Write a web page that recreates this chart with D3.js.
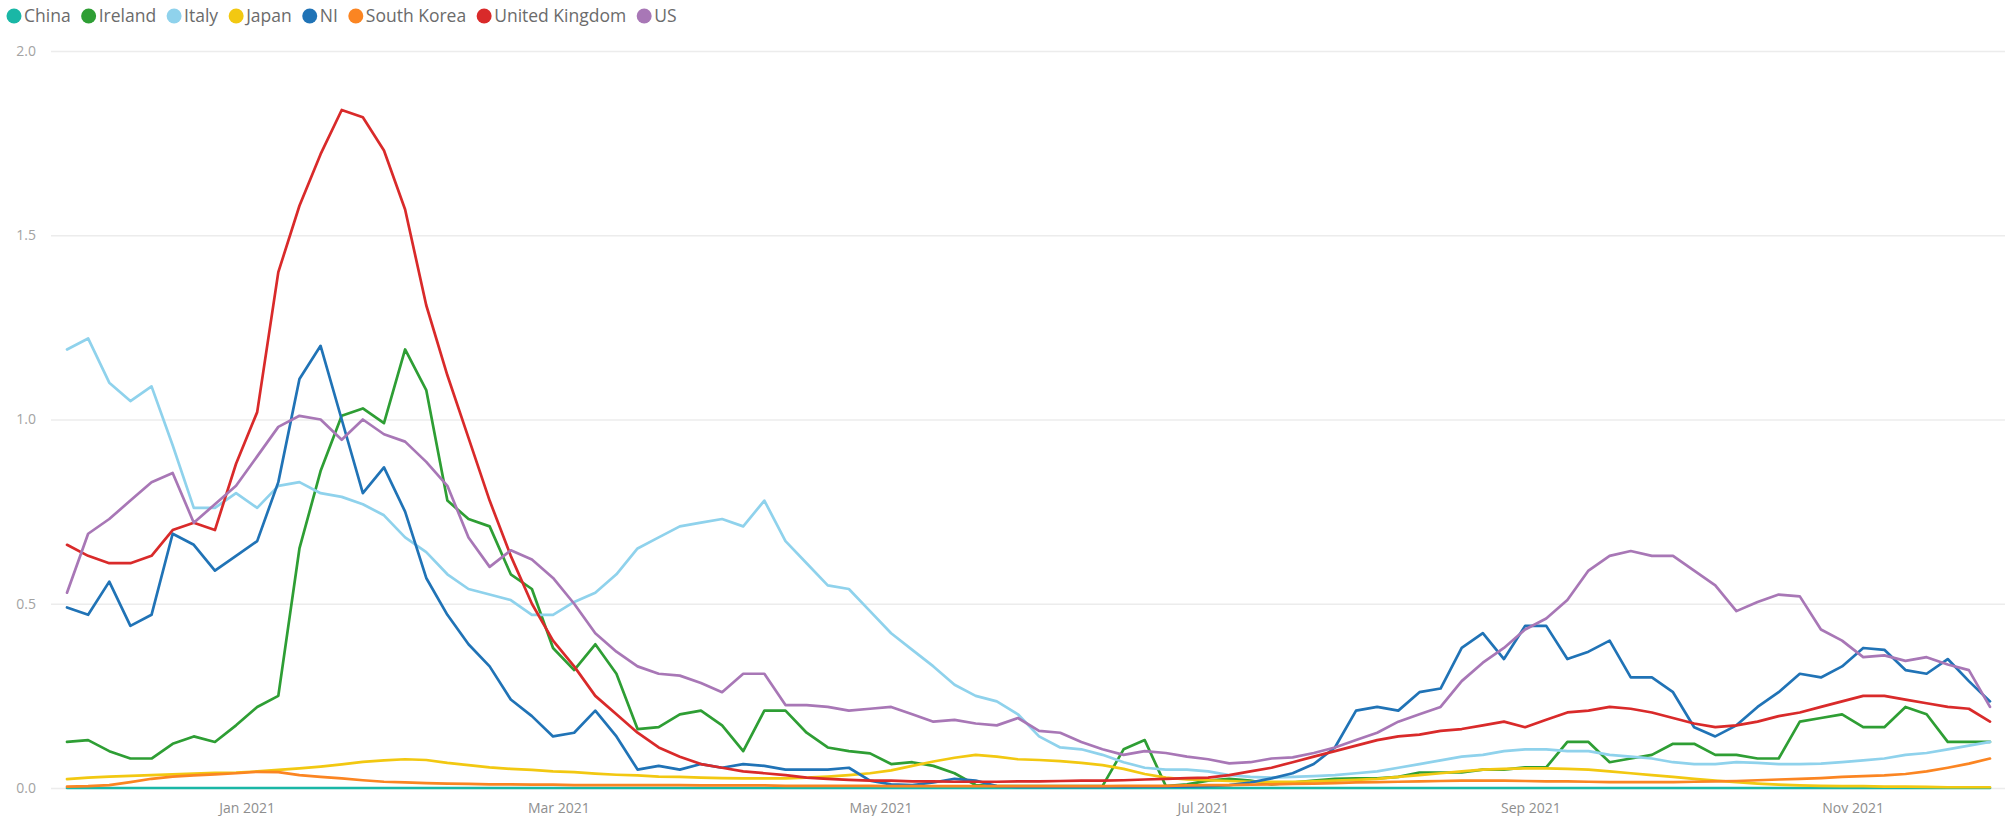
<!DOCTYPE html>
<html>
<head>
<meta charset="utf-8">
<script src="https://cdn.jsdelivr.net/npm/d3@7"></script>
<style>
  html, body { margin: 0; padding: 0; background: #fff; }
  svg { display: block; font-family: "Segoe UI", "Open Sans", "Noto Sans", sans-serif; }
</style>
</head>
<body>
<svg id="chart" width="2010" height="816"></svg>
<script>
// ---- DATA ----
const startDate = "2020-11-28";   // first sample
const stepDays = 4;               // spacing of samples
const seriesNames = ["China", "Ireland", "Italy", "Japan", "NI", "South Korea", "United Kingdom", "US"];
const seriesColors = ["#1ab7a6", "#2e9e34", "#8fd2ec", "#f2c811", "#2073b6", "#fb8522", "#d92a2a", "#a877b6"];
const tickDates = ["2021-01-01", "2021-03-01", "2021-05-01", "2021-07-01", "2021-09-01", "2021-11-01"];
const yTicks = [0, 0.5, 1.0, 1.5, 2.0];

const china = [0,0,0,0,0,0,0,0,0,0,0,0,0,0,0,0,0,0,0,0,0,0,0,0,0,0,0,0,0,0,0,0,0,0,0,0,0,0,0,0,0,0,0,0,0,0,
  0,0,0,0,0,0,0,0,0,0,0,0,0,0,0,0,0,0,0,0,0,0,0,0,0,0,0,0,0,0,0,0,0,0,0,0,0,0,0,0,0,0,0,0,0,0];
const ireland = [0.125,0.13,0.10,0.08,0.08,0.12,0.14,0.125,0.17,0.22,0.25,0.65,0.86,1.01,1.03,0.99,1.19,1.08,0.78,
  0.73,0.71,0.58,0.54,0.38,0.32,0.39,0.31,0.16,0.165,0.20,0.21,0.17,0.10,0.21,0.21,0.15,0.11,
  0.10,0.094,0.065,0.07,0.06,0.04,0.008,0.005,0.005,0.005,0.005,0.005,0.005,0.105,0.13,0.005,0.01,0.02,
  0.025,0.02,0.01,0.015,0.02,0.025,0.026,0.026,0.03,0.042,0.042,0.042,0.05,0.05,0.056,0.056,0.125,0.125,
  0.07,0.08,0.09,0.12,0.12,0.09,0.09,0.08,0.08,0.18,0.19,0.20,0.165,0.165,0.22,0.20,0.125,0.125,0.125];
const italy = [1.19,1.22,1.10,1.05,1.09,0.93,0.76,0.76,0.80,0.76,0.82,0.83,0.80,0.79,0.77,0.74,0.68,0.64,0.58,
  0.54,0.525,0.51,0.47,0.47,0.505,0.53,0.58,0.65,0.68,0.71,0.72,0.73,0.71,0.78,0.67,0.61,0.55,
  0.54,0.48,0.42,0.375,0.33,0.28,0.25,0.235,0.20,0.14,0.11,0.105,0.09,0.07,0.055,0.05,0.05,0.045,
  0.035,0.03,0.028,0.03,0.032,0.035,0.04,0.045,0.055,0.065,0.075,0.085,0.09,0.10,0.105,0.105,0.10,0.10,
  0.09,0.085,0.08,0.07,0.065,0.065,0.07,0.068,0.065,0.065,0.066,0.07,0.075,0.08,0.09,0.095,0.105,0.115,0.125];
const japan = [0.024,0.028,0.031,0.033,0.035,0.037,0.039,0.041,0.042,0.045,0.049,0.053,0.058,0.064,0.071,0.075,0.078,0.076,0.068,
  0.062,0.056,0.052,0.049,0.045,0.043,0.039,0.036,0.034,0.031,0.030,0.028,0.027,0.026,0.026,0.026,0.028,0.031,
  0.035,0.040,0.048,0.060,0.072,0.082,0.090,0.085,0.078,0.076,0.073,0.068,0.062,0.052,0.038,0.028,0.023,0.021,
  0.019,0.017,0.017,0.017,0.018,0.020,0.022,0.025,0.030,0.035,0.040,0.045,0.050,0.052,0.053,0.053,0.052,0.050,
  0.045,0.040,0.035,0.030,0.025,0.020,0.016,0.012,0.009,0.007,0.006,0.005,0.005,0.004,0.004,0.003,0.002,0.002,0.002];
const ni = [0.49,0.47,0.56,0.44,0.47,0.69,0.66,0.59,0.63,0.67,0.83,1.11,1.20,1.00,0.80,0.87,0.75,0.57,0.47,
  0.39,0.33,0.24,0.195,0.14,0.15,0.21,0.14,0.05,0.06,0.05,0.065,0.055,0.065,0.06,0.05,0.05,0.05,
  0.055,0.02,0.01,0.008,0.015,0.025,0.02,0.005,0.003,0.003,0.003,0.004,0.003,0.003,0.004,0.004,0.004,0.005,
  0.008,0.015,0.026,0.04,0.065,0.11,0.21,0.22,0.21,0.26,0.27,0.38,0.42,0.35,0.44,0.44,0.35,0.37,
  0.40,0.30,0.30,0.26,0.165,0.14,0.17,0.22,0.26,0.31,0.30,0.33,0.38,0.375,0.32,0.31,0.35,0.29,0.235];
const southKorea = [0.004,0.005,0.008,0.016,0.025,0.031,0.034,0.037,0.040,0.044,0.043,0.035,0.030,0.026,0.021,0.017,0.015,0.013,0.012,
  0.011,0.010,0.010,0.009,0.009,0.008,0.008,0.008,0.008,0.008,0.008,0.007,0.007,0.007,0.007,0.006,0.006,0.006,
  0.006,0.006,0.005,0.005,0.005,0.005,0.005,0.005,0.005,0.005,0.005,0.005,0.005,0.006,0.006,0.006,0.007,0.008,
  0.008,0.009,0.010,0.011,0.012,0.013,0.015,0.016,0.017,0.018,0.019,0.020,0.020,0.020,0.019,0.018,0.018,0.017,
  0.016,0.016,0.016,0.016,0.017,0.018,0.019,0.021,0.023,0.025,0.027,0.030,0.032,0.034,0.038,0.045,0.055,0.066,0.080];
const uk = [0.66,0.63,0.61,0.61,0.63,0.70,0.72,0.70,0.88,1.02,1.40,1.58,1.72,1.84,1.82,1.73,1.57,1.31,1.12,
  0.95,0.78,0.63,0.50,0.40,0.33,0.25,0.20,0.15,0.11,0.085,0.065,0.055,0.045,0.04,0.035,0.028,0.025,
  0.022,0.02,0.02,0.018,0.018,0.017,0.017,0.017,0.018,0.018,0.019,0.02,0.02,0.021,0.023,0.025,0.027,0.028,
  0.035,0.045,0.055,0.07,0.085,0.10,0.115,0.13,0.14,0.145,0.155,0.16,0.17,0.18,0.165,0.185,0.205,0.21,
  0.22,0.215,0.205,0.19,0.175,0.165,0.17,0.18,0.195,0.205,0.22,0.235,0.25,0.25,0.24,0.23,0.22,0.215,0.18];
const us = [0.53,0.69,0.73,0.78,0.83,0.855,0.72,0.77,0.82,0.90,0.98,1.01,1.00,0.945,1.00,0.96,0.94,0.885,0.82,
  0.68,0.60,0.645,0.62,0.57,0.50,0.42,0.37,0.33,0.31,0.305,0.285,0.26,0.31,0.31,0.225,0.225,0.22,
  0.21,0.215,0.22,0.20,0.18,0.185,0.175,0.17,0.19,0.155,0.15,0.125,0.105,0.09,0.10,0.095,0.085,0.078,
  0.067,0.07,0.08,0.083,0.095,0.11,0.13,0.15,0.18,0.20,0.22,0.29,0.34,0.38,0.43,0.46,0.51,0.59,
  0.63,0.643,0.63,0.63,0.59,0.55,0.48,0.505,0.525,0.52,0.43,0.40,0.355,0.36,0.345,0.355,0.335,0.32,0.22];

const seriesValues = [china, ireland, italy, japan, ni, southKorea, uk, us];

// ---- BUILD ----
const parse = d3.utcParse("%Y-%m-%d");
const t0 = parse(startDate);
const dates = d3.range(china.length).map(i => d3.utcDay.offset(t0, i * stepDays));

const svg = d3.select("#chart");
const x = d3.scaleUtc().domain([dates[0], dates[dates.length - 1]]).range([67, 1990]);
const y = d3.scaleLinear().domain([0, 2]).range([788, 51]);

// gridlines + y labels
const yAxis = d3.axisLeft(y).tickValues(yTicks).tickFormat(d3.format(".1f"))
  .tickSize(-(2005 - 51)).tickPadding(15);
const gy = svg.append("g").attr("transform", "translate(51,0)").call(yAxis);
gy.select(".domain").remove();
gy.selectAll(".tick line").attr("stroke", "#ececec").attr("stroke-width", 1.3);
gy.selectAll(".tick text").attr("fill", "#a3a3a3").style("font-size", "14px")
  .style("font-family", "'Segoe UI','Open Sans',sans-serif");

// x labels
const xAxis = d3.axisBottom(x).tickValues(tickDates.map(parse))
  .tickFormat(d3.utcFormat("%b %Y")).tickSize(0).tickPadding(0);
const gx = svg.append("g").attr("transform", "translate(0,800)").call(xAxis);
gx.select(".domain").remove();
gx.selectAll(".tick text").attr("fill", "#8e8e8e").style("font-size", "14px").attr("dy", "0.9em")
  .style("font-family", "'Segoe UI','Open Sans',sans-serif");

// lines
const line = d3.line().x((d, i) => x(dates[i])).y(d => y(d));
const gl = svg.append("g");
seriesValues.forEach((vals, s) => {
  gl.append("path").datum(vals).attr("d", line)
    .attr("fill", "none").attr("stroke", seriesColors[s])
    .attr("stroke-width", 2.7).attr("stroke-linejoin", "round").attr("stroke-linecap", "round");
});

// legend
const leg = svg.append("g").attr("transform", "translate(0,16)");
let cx = 14;
seriesNames.forEach((name, s) => {
  const it = leg.append("g");
  it.append("circle").attr("cx", cx).attr("cy", 0).attr("r", 7.5).attr("fill", seriesColors[s]);
  const tx = it.append("text").attr("x", cx + 10).attr("y", 0).attr("dy", "0.35em")
    .attr("fill", "#6b6b6b").style("font-size", "17.5px").text(name);
  const w = tx.node().getComputedTextLength();
  cx = cx + 10 + w + 18;
});
</script>
</body>
</html>
